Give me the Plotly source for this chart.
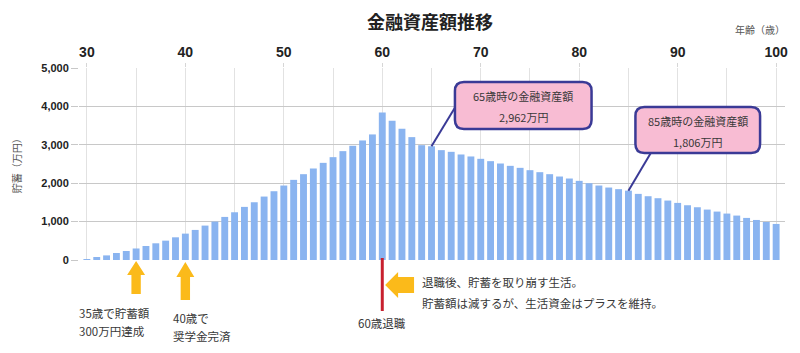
import plotly.graph_objects as go

# ---------------- data ----------------
ages = list(range(30, 101))
savings = [
    25, 78, 120, 183, 235, 300, 365, 435, 504, 591,          # 30-39
    687, 783, 896, 1000, 1122, 1243, 1383, 1504, 1652, 1791, # 40-49
    1939, 2087, 2235, 2383, 2530, 2678, 2835, 2974, 3113, 3270,  # 50-59
    3844, 3626, 3417, 3200, 2990, 2962, 2861, 2817, 2748, 2696,  # 60-69
    2635, 2574, 2513, 2452, 2400, 2339, 2287, 2235, 2174, 2122,  # 70-79
    2061, 2000, 1939, 1887, 1845, 1806, 1722, 1661, 1609, 1548,  # 80-89
    1487, 1426, 1374, 1313, 1261, 1209, 1157, 1096, 1043, 991,   # 90-99
    939,                                                         # 100
]
x_tickvals = [30, 40, 50, 60, 70, 80, 90, 100]
y_tickvals = [0, 1000, 2000, 3000, 4000, 5000]

title_text = "金融資産額推移"
x_title = "年齢（歳）"
y_title = "貯蓄（万円）"
callouts = [
    {"age": 65, "line1": "65歳時の金融資産額", "line2": "2,962万円"},
    {"age": 85, "line1": "85歳時の金融資産額", "line2": "1,806万円"},
]
milestones = [
    {"age": 35, "lines": ["35歳で貯蓄額", "300万円達成"]},
    {"age": 40, "lines": ["40歳で", "奨学金完済"]},
]
retire_age = 60
retire_label = "60歳退職"
retire_note1 = "退職後、貯蓄を取り崩す生活。"
retire_note2 = "貯蓄額は減するが、生活資金はプラスを維持。"

# ---------------- layout geometry ----------------
W, H = 800, 353
PL, PT, PW, PH = 79, 68, 708, 192
XR = [29.2, 100.9]
YR = [0, 5000]

def px(x):  # pixel -> paper x
    return (x - PL) / PW

def py(y):  # pixel -> paper y
    return (PT + PH - y) / PH

def age_to_px(a):
    return PL + (a - XR[0]) / (XR[1] - XR[0]) * PW

def px_to_age(x):
    return XR[0] + (x - PL) / PW * (XR[1] - XR[0])

def py_to_val(y):
    return (PT + PH - y) / PH * (YR[1] - YR[0])

FONT = "Liberation Sans, Noto Sans CJK JP, sans-serif"
JFONT = "Noto Sans CJK JP, sans-serif"
TXT = "#383838"

fig = go.Figure()
fig.add_trace(go.Bar(
    x=ages, y=savings,
    marker=dict(color="#8AB4F0", line=dict(width=0)),
    hoverinfo="x+y",
))

shapes = []
annotations = []

def label(text, x, y, size, color=TXT, xanchor="center", weight="normal", angle=0, align="center"):
    annotations.append(dict(text=text, xref="paper", yref="paper", x=px(x), y=py(y),
                            xanchor=xanchor, yanchor="middle", showarrow=False, textangle=angle,
                            align=align, borderpad=0,
                            font=dict(family=JFONT, size=size, color=color, weight=weight)))

# title etc
label(title_text, 431, 21, 18, color="#222222", weight="bold")
label(x_title, 762, 30, 10, color="#555555")
label(y_title, 16, 163, 10, color="#555555", angle=-90)

# rounded rectangle helper (paper coords from pixels)
def rounded_rect(x0, y0, x1, y1, r):
    P = lambda a, b: f"{px(a):.5f},{py(b):.5f}"
    return (f"M {P(x0 + r, y0)} L {P(x1 - r, y0)} Q {P(x1, y0)} {P(x1, y0 + r)} "
            f"L {P(x1, y1 - r)} Q {P(x1, y1)} {P(x1 - r, y1)} "
            f"L {P(x0 + r, y1)} Q {P(x0, y1)} {P(x0, y1 - r)} "
            f"L {P(x0, y0 + r)} Q {P(x0, y0)} {P(x0 + r, y0)} Z")

box_px = [(456, 82, 593, 129), (637, 107, 762, 153)]
ptr_start = [(457, 106), (653, 152)]
for c, (bx0, by0, bx1, by1), (sx, sy) in zip(callouts, box_px, ptr_start):
    v = savings[ages.index(c["age"])]
    shapes.append(dict(type="line", xref="x", yref="y",
                       x0=px_to_age(sx), y0=py_to_val(sy), x1=c["age"], y1=v,
                       line=dict(color="#3A3A96", width=2)))
    shapes.append(dict(type="path", xref="paper", yref="paper",
                       path=rounded_rect(bx0, by0, bx1, by1, 9),
                       fillcolor="#F8BCD3", line=dict(color="#3A3A96", width=2.5)))
    cx = (bx0 + bx1) / 2
    label(c["line1"], cx, by0 + 14, 11)
    label(c["line2"], cx, by0 + 35, 11)

ARROW = "#FBBA1A"

def up_arrow(cx, tip, headbase, bottom, hw=9, sw=4.7):
    P = lambda a, b: f"{px(a):.5f},{py(b):.5f}"
    return (f"M {P(cx, tip)} L {P(cx + hw, headbase)} L {P(cx + sw, headbase)} "
            f"L {P(cx + sw, bottom)} L {P(cx - sw, bottom)} L {P(cx - sw, headbase)} "
            f"L {P(cx - hw, headbase)} Z")

arrow_geo = [(261, 275, 294), (262, 277, 300)]
text_y = [313, 318]
text_x = [78, 172]
for m, (tip, hb, bot), ty, tx in zip(milestones, arrow_geo, text_y, text_x):
    cx = age_to_px(m["age"])
    shapes.append(dict(type="path", xref="paper", yref="paper", path=up_arrow(cx, tip, hb, bot),
                       fillcolor=ARROW, line=dict(width=0)))
    for i, line in enumerate(m["lines"]):
        label(line, tx, ty + 18 * i, 11.5, xanchor="left", align="left")

# retirement marker
rx = age_to_px(retire_age)
shapes.append(dict(type="line", xref="paper", yref="paper", x0=px(rx), x1=px(rx), y0=py(258), y1=py(311),
                   line=dict(color="#C8202E", width=3)))
label(retire_label, rx, 323, 11.5)
P = lambda a, b: f"{px(a):.5f},{py(b):.5f}"
la = (f"M {P(386, 285)} L {P(399, 272)} L {P(399, 277)} L {P(415, 277)} L {P(415, 293)} "
      f"L {P(399, 293)} L {P(399, 298)} Z")
shapes.append(dict(type="path", xref="paper", yref="paper", path=la, fillcolor=ARROW, line=dict(width=0)))
label(retire_note1, 422, 282, 11.5, xanchor="left")
label(retire_note2, 422, 303, 11.5, xanchor="left")

fig.update_layout(
    width=W, height=H,
    margin=dict(l=PL, r=W - PL - PW, t=PT, b=H - PT - PH),
    paper_bgcolor="white", plot_bgcolor="white",
    bargap=0.3, showlegend=False,
    shapes=shapes, annotations=annotations,
    font=dict(family=FONT, color=TXT),
)
fig.update_xaxes(
    side="top", range=XR, tickvals=x_tickvals, ticks="outside", ticklen=4, tickcolor="#D6D6D6",
    showgrid=True, gridcolor="#E2E2E2", gridwidth=1,
    minor=dict(dtick=5, tick0=30, showgrid=True, gridcolor="#E2E2E2", gridwidth=1),
    tickfont=dict(family=FONT, size=14, color="#222222", weight="bold"),
    zeroline=False, showline=False, fixedrange=True,
)
fig.update_yaxes(
    range=YR, tickvals=y_tickvals, tickformat=",", ticks="outside", ticklen=7, tickcolor="#C8C8C8",
    showgrid=True, gridcolor="#C8C8C8", gridwidth=1,
    tickfont=dict(family=FONT, size=11, color="#222222", weight="bold"),
    zeroline=False, showline=False, fixedrange=True,
)

fig.write_html("out.html")
